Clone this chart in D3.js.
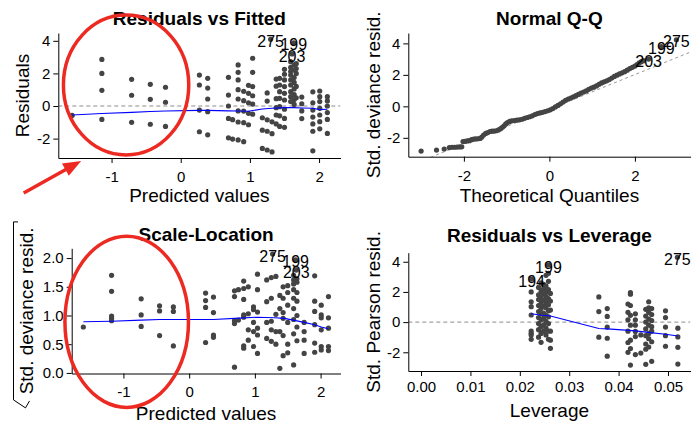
<!DOCTYPE html>
<html>
<head>
<meta charset="utf-8">
<script src="https://cdn.jsdelivr.net/npm/d3@7"></script>
<style>
  body { margin: 0; background: #fff; }
  svg { font-family: "Liberation Sans", Arial, sans-serif; }
  .tick text { font-family: "Liberation Sans", Arial, sans-serif; font-size: 15px; fill: #000; }
  .tick line, .domain { stroke: #000; }
  .panelTitle { font-size: 19px; font-weight: bold; }
  .axisTitle { font-size: 19px; }
  .ptLabel { font-size: 16px; }
</style>
</head>
<body>
<svg id="chart" width="700" height="432"></svg>
<script>
// ---- Residuals vs Fitted : [predicted value, residuals at that value]
const fittedCols = [
  [-1.57, [-0.58]],
  [-1.14, [2.86, 2.0, 0.96, -0.82]],
  [-0.71, [1.64, 0.66, -1.0]],
  [-0.44, [1.33, 0.41, -1.12]],
  [-0.22, [1.15, 0.23, -1.25]],
  [0.27, [1.9, 1.29, -0.25, -1.58]],
  [0.39, [1.7, 1.1, 0.43, -0.35, -1.77]],
  [0.69, [1.76, 0.67, 0.0, -0.76, -1.95]],
  [0.75, [-0.84, -2.03]],
  [0.83, [2.52, 2.07, 1.6, 1.0, 0.43, -0.3, -0.98, -2.08]],
  [0.91, [0.9, 0.33, -0.31, -1.02, -2.19]],
  [0.98, [1.27, 0.78, 0.2, -0.45, -1.15]],
  [1.04, [2.93, 2.07, 1.19, 0.63, 0.12, -0.5]],
  [1.18, [-0.72, -1.48, -2.6]],
  [1.25, [0.8, 0.3, -0.85, -1.55, -2.7]],
  [1.32, [-0.97, -1.7, -2.82]],
  [1.38, [1.65, 1.22, 0.45, -0.1, -0.55, -1.1]],
  [1.43, [1.7, 1.29, 0.88, 0.47, -0.04, -0.6, -1.25]],
  [1.50, [2.25, 1.95, 1.6, 1.19, 0.78, 0.37, -0.2, -0.76, -1.31]],
  [1.59, [2.72, 2.37, 2.11, 1.9, 1.6, 1.29, 0.88, 0.57, 0.27]],
  [1.64, [2.52, 2.21, 1.75, 1.45, 1.05, 0.7, 0.4, 0.1]],
  [1.67, [2.6, 2.3, 2.0, 1.2, 0.5]],
  [1.75, [0.55, 0.14, -0.3, -0.77]],
  [1.91, [0.87, 0.2, -0.25, -0.68, -1.1, -1.55, -2.75]],
  [2.01, [0.92, 0.57, 0.27, -0.14, -0.55, -0.96, -1.4]],
  [2.12, [0.57, 0.31, 0.0, -0.4, -0.82, -1.68]]
];
const fittedLowess = [[-1.57,-0.55],[-1.14,-0.46],[-0.71,-0.39],[-0.44,-0.34],[-0.22,-0.31],
  [0.27,-0.27],[0.39,-0.27],[0.69,-0.3],[0.83,-0.31],[0.98,-0.32],[1.04,-0.28],[1.18,-0.18],
  [1.32,-0.14],[1.5,-0.1],[1.64,-0.1],[1.75,-0.12],[1.91,-0.14],[2.01,-0.22],[2.12,-0.2]];
const fittedLabels = [["275", 1.30, 4.09], ["199", 1.635, 3.88], ["203", 1.61, 3.19]];

// ---- Normal Q-Q : [theoretical quantile, std. deviance resid.]
const qqPts = [[-3.00,-2.84],[-2.64,-2.78],[-2.46,-2.71],[-2.34,-2.62],[-2.28,-2.6],[-2.22,-2.6],
  [-2.16,-2.59],[-2.10,-2.58],[-2.05,-2.57],[-2.02,-2.24],[-1.97,-2.22],[-1.92,-2.2],[-1.87,-2.18],
  [-1.82,-2.12],[-1.77,-2.08],[-1.72,-2.07],[-1.67,-2.06],[-1.62,-2.04],[-1.58,-1.95],[-1.54,-1.82],
  [-1.49,-1.72],[-1.44,-1.67],[-1.39,-1.6],[-1.34,-1.58],[-1.29,-1.57],[-1.24,-1.55],[-1.19,-1.5],
  [-1.14,-1.42],[-1.1,-1.33],[-1.06,-1.24],[-1.02,-1.12],[-0.98,-1.04],[-0.93,-0.96],[-0.88,-0.92],
  [-0.82,-0.9],[-0.76,-0.88],[-0.7,-0.86],[-0.64,-0.82],[-0.58,-0.76],[-0.52,-0.71],[-0.46,-0.66],
  [-0.4,-0.6],[-0.34,-0.52],[-0.28,-0.46],[-0.22,-0.42],[-0.16,-0.38],[-0.1,-0.33],[-0.04,-0.28],
  [0.02,-0.22],[0.08,-0.14],[0.14,-0.04],[0.2,0.06],[0.26,0.16],[0.32,0.27],[0.38,0.38],[0.44,0.46],
  [0.5,0.53],[0.56,0.6],[0.62,0.68],[0.68,0.76],[0.74,0.84],[0.8,0.91],[0.86,0.98],[0.92,1.08],
  [0.98,1.16],[1.04,1.22],[1.1,1.3],[1.16,1.4],[1.22,1.49],[1.28,1.56],[1.34,1.62],[1.4,1.7],
  [1.46,1.8],[1.52,1.9],[1.58,1.98],[1.64,2.06],[1.7,2.13],[1.76,2.2],[1.82,2.3],[1.88,2.4],
  [1.94,2.48],[2.0,2.56],[2.05,2.66],[2.1,2.76],[2.15,2.84],[2.2,2.9]];
const qqLabels = [["203", 2.32, 3.0], ["199", 2.62, 3.8], ["275", 2.97, 4.23]];
const qqRef = [-0.18, 1.1];   // intercept, slope of the dashed line

// ---- Scale-Location : [predicted value, sqrt|std. deviance resid.|]
const scaleCols = [
  [-1.61, [0.80]],
  [-1.18, [1.70, 1.42, 0.99, 0.95, 0.91]],
  [-0.73, [1.29, 1.01, 0.81]],
  [-0.45, [1.17, 1.08, 0.65]],
  [-0.24, [1.15, 1.07, 0.47]],
  [0.25, [1.39, 1.26, 1.14, 0.53]],
  [0.37, [1.32, 1.05, 0.66, 0.62]],
  [0.69, [1.43, 1.33, 0.91, 0.86, 0.10]],
  [0.75, [1.45, 0.92]],
  [0.83, [1.60, 1.47, 1.28, 1.01, 0.97, 0.47, 0.43]],
  [0.90, [1.50, 1.03, 0.75, 0.57]],
  [0.98, [1.15, 1.10, 0.88, 0.72, 0.46]],
  [1.04, [1.72, 1.45, 1.06, 0.78, 0.66, 0.34]],
  [1.18, [1.62, 1.24, 0.88, 0.60]],
  [1.25, [1.66, 1.30, 0.90, 0.75, 0.55]],
  [1.32, [1.68, 1.02, 0.72, 0.50]],
  [1.38, [1.35, 1.12, 0.72, 0.08]],
  [1.43, [1.50, 1.30, 1.05, 0.95, 0.65, 0.30]],
  [1.50, [1.52, 1.40, 1.18, 0.88, 0.50, 0.35]],
  [1.59, [1.70, 1.62, 1.55, 1.45, 1.30, 1.12, 0.93, 0.68, 0.14]],
  [1.64, [1.64, 1.58, 1.40, 1.25, 1.00, 0.80, 0.56]],
  [1.75, [0.88, 0.72, 0.57, 0.34]],
  [1.91, [1.69, 1.25, 1.07, 0.84, 0.52, 0.36]],
  [2.01, [1.18, 1.01, 0.96, 0.75, 0.46, 0.40]],
  [2.12, [1.33, 0.96, 0.78, 0.46, 0.39]]
];
const scaleLowess = [[-1.61,0.89],[-1.18,0.9],[-0.73,0.92],[-0.45,0.93],[-0.24,0.93],[0.25,0.93],
  [0.37,0.93],[0.69,0.95],[1.04,0.97],[1.3,0.96],[1.45,0.95],[1.62,0.91],[1.75,0.88],[1.91,0.84],
  [2.01,0.8],[2.12,0.77]];
const scaleLabels = [["275", 1.27, 2.07], ["199", 1.62, 1.97], ["203", 1.63, 1.79]];

// ---- Residuals vs Leverage : [leverage, std. Pearson resid. at that leverage]
const levCols = [
  [0.0223, [2.0, 1.35, 1.02, 0.47, -0.59, -0.74, -0.85, -1.14]],
  [0.0238, [2.3, 1.8, 1.5, 1.1, 0.7, 0.3, -0.1, -0.5, -1.0]],
  [0.0243, [2.6, 2.05, 1.6, 1.25, 0.9, 0.55, 0.15, -0.3, -0.75, -1.34]],
  [0.0248, [2.5, 2.2, 1.85, 1.45, 1.05, 0.6, 0.25, -0.2, -0.6]],
  [0.0253, [3.1, 2.4, 2.0, 1.7, 1.3, 0.95, 0.45, 0.05, -0.4, -0.85]],
  [0.0258, [3.23, 2.7, 2.15, 1.55, 1.15, 0.75, 0.35, -0.1, -0.59, -1.14]],
  [0.0262, [1.9, 1.4, 0.8, -0.6, -1.2, -1.74]],
  [0.0360, [1.67, 0.7, -1.0]],
  [0.0377, [0.9, 0.38, -0.33, -1.07, -2.26]],
  [0.0419, [1.2, 0.65, 0.15, -0.6, -1.35, -2.0]],
  [0.0424, [1.95, 1.85, 1.1, 0.45, -0.2, -1.2, -1.75, -2.85]],
  [0.0434, [0.55, 0.15, -0.2, -0.62, -0.96, -2.15]],
  [0.0445, [-0.85, -2.05]],
  [0.0455, [0.85, 0.4, 0.0, -0.45, -0.9, -1.45, -1.8, -2.8]],
  [0.0461, [1.35, 0.95, 0.65, 0.2, -0.2, -0.75, -1.1, -1.65]],
  [0.0467, [0.9, 0.5, 0.1, -0.3, -0.6, -1.3, -2.6]],
  [0.0495, [0.75, 0.3, -0.33, -0.9, -1.6]],
  [0.0520, [-0.4, -0.98, -1.67, -2.78]]
];
const levLowess = [[0.0223,0.55],[0.0245,0.45],[0.0262,0.40],[0.036,-0.42],[0.0377,-0.45],
  [0.0421,-0.55],[0.0434,-0.58],[0.046,-0.68],[0.0495,-0.8],[0.052,-0.92]];
const levLabels = [["194", 0.0224, 2.85], ["199", 0.0258, 3.78], ["275", 0.0519, 4.3]];

// tick values
const fittedTicks = [-1, 0, 1, 2];
const residTicks = [-2, 0, 2, 4];
const qqTicks = [-2, 0, 2];
const scaleTicks = [0, 0.5, 1, 1.5, 2];
const levTicks = [0, 0.01, 0.02, 0.03, 0.04, 0.05];

function flatten(cols) {
    let out = [];
    cols.forEach((c) => c[1].forEach((v) => out.push([c[0], v])));
    return out;
}

const plain = (d) => String(d);

const panels = [
  { title: "Residuals vs Fitted", xTitle: "Predicted values", yTitle: "Residuals",
    left: 58.3, right: 340.5, top: 33, bottom: 158,
    xDomain: [-1.77, 2.31], yDomain: [-3.19, 4.48],
    xTicks: fittedTicks, yTicks: residTicks, xFmt: plain, yFmt: plain,
    pts: flatten(fittedCols), lowess: fittedLowess, labels: fittedLabels, zero: true,
    titleY: 25, xTitleY: 202, yTitleX: 28.5, xPad: 8,
    ring: { cx: -0.79, cy: 1.29, rx: 0.906, ry: 4.29 },
    arrow: [[-2.27, -5.34], [-1.44, -3.37]] },
  { title: "Normal Q-Q", xTitle: "Theoretical Quantiles", yTitle: "Std. deviance resid.",
    left: 408.3, right: 690.5, top: 33, bottom: 156.7,
    xDomain: [-3.30, 3.30], yDomain: [-3.2, 4.66],
    xTicks: qqTicks, yTicks: residTicks, xFmt: plain, yFmt: plain,
    pts: qqPts, labels: qqLabels, ref: qqRef,
    titleY: 24.5, xTitleY: 202, yTitleX: 380, xPad: 9 },
  { title: "Scale-Location", xTitle: "Predicted values", yTitle: "Std. deviance resid.",
    left: 71.7, right: 340.5, top: 248.3, bottom: 373.5,
    xDomain: [-1.787, 2.303], yDomain: [-0.01, 2.17],
    xTicks: fittedTicks, yTicks: scaleTicks, xFmt: plain, yFmt: d3.format(".1f"),
    pts: flatten(scaleCols), lowess: scaleLowess, labels: scaleLabels, root: true,
    titleY: 241, xTitleY: 420, yTitleX: 33, xPad: 8,
    ring: { cx: -0.95, cy: 0.89, rx: 0.94, ry: 1.49 } },
  { title: "Residuals vs Leverage", xTitle: "Leverage", yTitle: "Std. Pearson resid.",
    left: 408.3, right: 690.5, top: 252.7, bottom: 371,
    xDomain: [-0.00258, 0.05456], yDomain: [-3.24, 4.6],
    xTicks: levTicks, yTicks: residTicks, xFmt: d3.format(".2f"), yFmt: plain,
    pts: flatten(levCols), lowess: levLowess, labels: levLabels, zero: true,
    titleY: 241.7, xTitleY: 417, yTitleX: 380, xPad: 5.5 }
];

const svg = d3.select("#chart");
const red = "#ec2a22";

panels.forEach((p, i) => {
    let x = d3.scaleLinear().domain(p.xDomain).range([p.left, p.right]);
    let y = d3.scaleLinear().domain(p.yDomain).range([p.bottom, p.top]);
    let g = svg.append("g");

    g.append("clipPath").attr("id", "clip" + i)
        .append("rect")
        .attr("x", p.left).attr("y", p.top)
        .attr("width", p.right - p.left).attr("height", p.bottom - p.top);
    let plot = g.append("g").attr("clip-path", "url(#clip" + i + ")");

    // dashed reference lines
    if (p.zero) {
        plot.append("line")
            .attr("x1", p.left).attr("x2", p.right)
            .attr("y1", y(0)).attr("y2", y(0))
            .attr("stroke", "#8c8c8c").attr("stroke-dasharray", "4,3");
    }
    if (p.ref) {
        let a = p.ref[0], b = p.ref[1];
        plot.append("line")
            .attr("x1", x(p.xDomain[0])).attr("y1", y(a + b * p.xDomain[0]))
            .attr("x2", x(p.xDomain[1])).attr("y2", y(a + b * p.xDomain[1]))
            .attr("stroke", "#8c8c8c").attr("stroke-width", 0.9).attr("stroke-dasharray", "3,3");
    }

    let allPts = p.pts.concat(p.labels.map((d) => [d[1], d[2]]));
    plot.selectAll("circle.pt")
        .data(allPts)
        .enter()
        .append("circle")
        .attr("class", "pt")
        .attr("cx", (d) => x(d[0]))
        .attr("cy", (d) => y(d[1]))
        .attr("r", 2.6)
        .attr("fill", "#444");

    if (p.lowess) {
        plot.append("path")
            .datum(p.lowess)
            .attr("fill", "none")
            .attr("stroke", "#0000ff")
            .attr("stroke-width", 1.1)
            .attr("d", d3.line().x((d) => x(d[0])).y((d) => y(d[1])));
    }

    g.selectAll("text.ptLabel")
        .data(p.labels)
        .enter()
        .append("text")
        .attr("class", "ptLabel")
        .attr("x", (d) => x(d[1]))
        .attr("y", (d) => y(d[2]) + 7.5)
        .attr("text-anchor", "middle")
        .text((d) => d[0]);

    // axes
    g.append("g")
        .attr("transform", "translate(0," + p.bottom + ")")
        .call(d3.axisBottom(x).tickValues(p.xTicks).tickFormat(p.xFmt)
            .tickSize(5).tickSizeOuter(0).tickPadding(p.xPad));
    g.append("g")
        .attr("transform", "translate(" + p.left + ",0)")
        .call(d3.axisLeft(y).tickValues(p.yTicks).tickFormat(p.yFmt)
            .tickSize(5).tickSizeOuter(0).tickPadding(3));

    let mid = (p.left + p.right) / 2;
    g.append("text").attr("class", "panelTitle")
        .attr("x", mid).attr("y", p.titleY)
        .attr("text-anchor", "middle").text(p.title);
    g.append("text").attr("class", "axisTitle")
        .attr("x", mid).attr("y", p.xTitleY)
        .attr("text-anchor", "middle").text(p.xTitle);
    let cy = (p.top + p.bottom) / 2;
    g.append("text").attr("class", "axisTitle")
        .attr("transform", "translate(" + p.yTitleX + "," + cy + ") rotate(-90)")
        .attr("text-anchor", "middle").text(p.yTitle);

    // square-root sign round the scale-location label
    if (p.root) {
        let bx = p.yTitleX - 19.5;
        g.append("path")
            .attr("d", "M" + (bx + 4.5) + "," + (cy - 89) + "H" + bx + "V" + (cy + 89)
                + "L" + (bx + 12) + "," + (cy + 97) + "L" + (bx + 16) + "," + (cy + 90))
            .attr("fill", "none").attr("stroke", "#000").attr("stroke-width", 1);
    }

    // red call-outs drawn over the chart
    if (p.ring) {
        g.append("ellipse")
            .attr("cx", x(p.ring.cx)).attr("cy", y(p.ring.cy))
            .attr("rx", x(p.ring.cx + p.ring.rx) - x(p.ring.cx))
            .attr("ry", y(p.ring.cy) - y(p.ring.cy + p.ring.ry))
            .attr("fill", "none").attr("stroke", red).attr("stroke-width", 3.5);
    }
    if (p.arrow) {
        let x0 = x(p.arrow[0][0]), y0 = y(p.arrow[0][1]);
        let x1 = x(p.arrow[1][0]), y1 = y(p.arrow[1][1]);
        let len = Math.hypot(x1 - x0, y1 - y0);
        let ux = (x1 - x0) / len, uy = (y1 - y0) / len;
        let bx = x1 - 18 * ux, by = y1 - 18 * uy;
        g.append("line")
            .attr("x1", x0).attr("y1", y0).attr("x2", bx + 2 * ux).attr("y2", by + 2 * uy)
            .attr("stroke", red).attr("stroke-width", 3.5);
        g.append("path")
            .attr("d", "M" + x1 + "," + y1 + "L" + (bx - 7 * uy) + "," + (by + 7 * ux)
                + "L" + (bx + 7 * uy) + "," + (by - 7 * ux) + "Z")
            .attr("fill", red);
    }
});
</script>
</body>
</html>
